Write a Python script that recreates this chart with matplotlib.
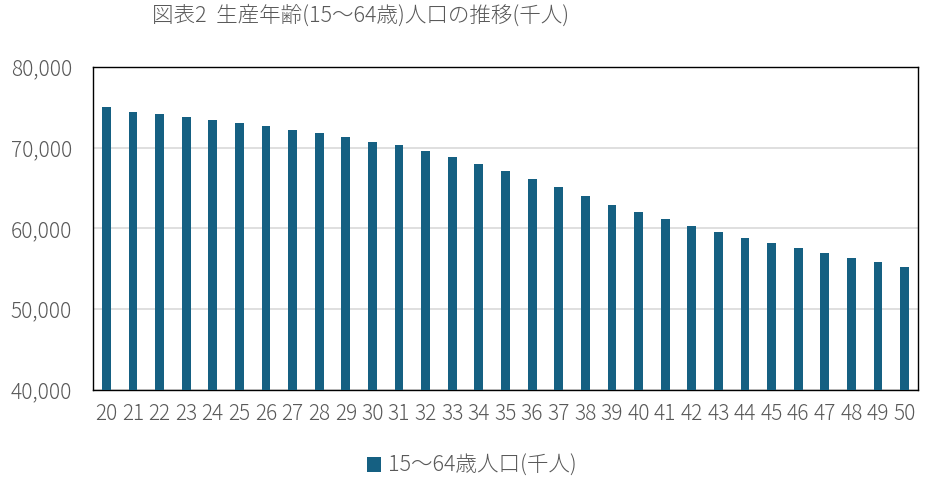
import matplotlib
matplotlib.use("Agg")
import matplotlib.pyplot as plt
from matplotlib.ticker import FuncFormatter

plt.rcParams['font.family'] = ['Noto Sans CJK JP', 'DejaVu Sans']

years = [str(y) for y in range(20, 51)]
population = [75000, 74420, 74180, 73800, 73430, 73060, 72690, 72190, 71820, 71330,
              70710, 70330, 69590, 68850, 67980, 67110, 66080, 65090, 63980, 62900,
              61990, 61130, 60260, 59550, 58770, 58150, 57530, 56910, 56290, 55800, 55180]
series_label = "15～64歳人口(千人)"
title = "図表2  生産年齢(15～64歳)人口の推移(千人)"
yticks = [40000, 50000, 60000, 70000, 80000]

bar_color = "#156082"
text_color = "#595959"

fig = plt.figure(figsize=(9.29, 4.84), dpi=100)
ax = fig.add_axes([93/929, (484-390)/484, (918-93)/929, (390-67)/484])

x = list(range(len(years)))
ax.bar(x, population, width=0.33, color=bar_color, label=series_label, zorder=3)

ax.set_ylim(40000, 80000)
ax.set_xlim(-0.5, len(years) - 0.5)
ax.set_yticks(yticks)
ax.yaxis.set_major_formatter(FuncFormatter(lambda v, p: f"{int(v):,}"))
ax.set_xticks(x)
ax.set_xticklabels(years)
ax.grid(axis='y', color='#d9d9d9', linewidth=1.2, zorder=0)
ax.tick_params(axis='both', length=0, labelsize=15, colors=text_color)
ax.tick_params(axis='y', pad=15)
ax.tick_params(axis='x', pad=9)
for lbl in ax.get_xticklabels() + ax.get_yticklabels():
    lbl.set_fontweight('light')
for s in ax.spines.values():
    s.set_color('black')
    s.set_linewidth(1.0)

fig.text(361/929, 1 - 16/484, title, ha='center', va='center', fontsize=15.5,
         color=text_color, fontweight='light')

leg = fig.legend(loc='center', bbox_to_anchor=(472/929, 1 - 466/484), frameon=False,
                 fontsize=15.5, handlelength=0.65, handleheight=0.65, handletextpad=0.3,
                 labelcolor=text_color, prop={'weight': 'light', 'size': 15.5})

fig.savefig("out.png", dpi=100)
